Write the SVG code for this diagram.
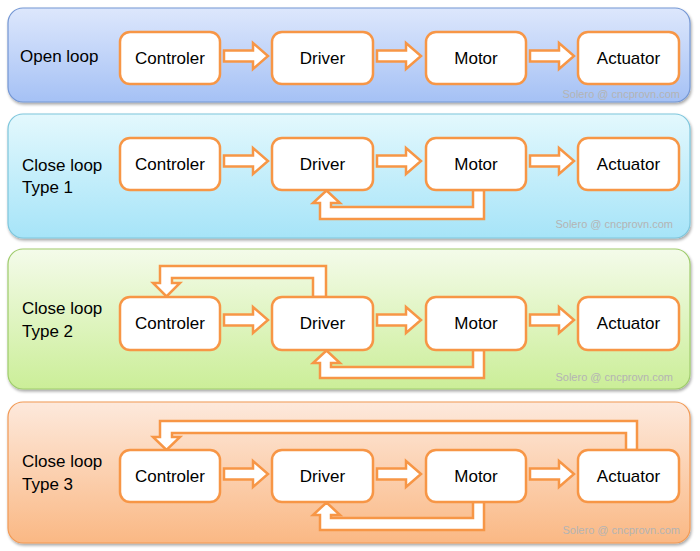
<svg xmlns="http://www.w3.org/2000/svg" width="700" height="551" viewBox="0 0 700 551">
  <defs>
    <linearGradient id="gBlue" x1="0" y1="0" x2="0" y2="1">
      <stop offset="0" stop-color="#dde7fc"/>
      <stop offset="1" stop-color="#a5c1f5"/>
    </linearGradient>
    <linearGradient id="gCyan" x1="0" y1="0" x2="0" y2="1">
      <stop offset="0" stop-color="#e3f8fd"/>
      <stop offset="1" stop-color="#a6e4f8"/>
    </linearGradient>
    <linearGradient id="gGreen" x1="0" y1="0" x2="0" y2="1">
      <stop offset="0" stop-color="#f4fbea"/>
      <stop offset="1" stop-color="#cbee98"/>
    </linearGradient>
    <linearGradient id="gOrange" x1="0" y1="0" x2="0" y2="1">
      <stop offset="0" stop-color="#fde9dc"/>
      <stop offset="1" stop-color="#fab884"/>
    </linearGradient>
    <filter id="shadow" x="-5%" y="-10%" width="110%" height="130%">
      <feGaussianBlur in="SourceAlpha" stdDeviation="1.5"/>
      <feOffset dx="1" dy="2" result="b"/>
      <feComponentTransfer><feFuncA type="linear" slope="0.35"/></feComponentTransfer>
      <feMerge><feMergeNode/><feMergeNode in="SourceGraphic"/></feMerge>
    </filter>
  </defs>
  <style>
    .panel { stroke-width: 1.2; filter: url(#shadow); }
    .box { fill: #ffffff; stroke: #f79646; stroke-width: 2.5; }
    .conn { fill: #ffffff; stroke: #f79646; stroke-width: 2.5; stroke-linejoin: miter; }
    .t { font-family: "Liberation Sans", Arial, sans-serif; font-size: 17px; fill: #000000; }
    .nt { text-anchor: middle; }
    .wm { font-family: "Liberation Sans", Arial, sans-serif; font-size: 11px; fill: #b4b4b4; text-anchor: end; }
  </style>

  <rect width="700" height="551" fill="#ffffff"/>

  <!-- Panels -->
  <g id="panels">
    <rect class="panel" x="8" y="8" width="682" height="94" rx="15" fill="url(#gBlue)" stroke="#7497d4"/>
    <rect class="panel" x="8" y="114" width="682" height="124" rx="15" fill="url(#gCyan)" stroke="#7ec6dc"/>
    <rect class="panel" x="8" y="249" width="682" height="140" rx="15" fill="url(#gGreen)" stroke="#9fcc6c"/>
    <rect class="panel" x="8" y="402" width="682" height="141" rx="15" fill="url(#gOrange)" stroke="#f29a55"/>
  </g>

  <!-- Panel labels -->
  <g id="labels">
    <text class="t" x="20" y="62">Open loop</text>
    <text class="t" x="22" y="171">Close loop</text>
    <text class="t" x="22" y="193">Type 1</text>
    <text class="t" x="22" y="314">Close loop</text>
    <text class="t" x="22" y="337">Type 2</text>
    <text class="t" x="22" y="467">Close loop</text>
    <text class="t" x="22" y="490">Type 3</text>
  </g>

  <!-- Watermarks -->
  <g id="watermarks">
    <text class="wm" x="680" y="98">Solero @ cncprovn.com</text>
    <text class="wm" x="673" y="228">Solero @ cncprovn.com</text>
    <text class="wm" x="673" y="381">Solero @ cncprovn.com</text>
    <text class="wm" x="680" y="534">Solero @ cncprovn.com</text>
  </g>

  <!-- Connectors -->
  <g id="connectors">
    <!-- forward block arrows: panel 1 (center 56) -->
    <polygon class="conn" points="224,50.5 253,50.5 253,43 268,56 253,69 253,61.5 224,61.5"/>
    <polygon class="conn" points="377,50.5 406,50.5 406,43 421,56 406,69 406,61.5 377,61.5"/>
    <polygon class="conn" points="530,50.5 559,50.5 559,43 574,56 559,69 559,61.5 530,61.5"/>
    <!-- panel 2 (center 161) -->
    <polygon class="conn" points="224,155.5 253,155.5 253,148 268,161 253,174 253,166.5 224,166.5"/>
    <polygon class="conn" points="377,155.5 406,155.5 406,148 421,161 406,174 406,166.5 377,166.5"/>
    <polygon class="conn" points="530,155.5 559,155.5 559,148 574,161 559,174 559,166.5 530,166.5"/>
    <!-- panel 3 (center 320) -->
    <polygon class="conn" points="224,314.5 253,314.5 253,307 268,320 253,333 253,325.5 224,325.5"/>
    <polygon class="conn" points="377,314.5 406,314.5 406,307 421,320 406,333 406,325.5 377,325.5"/>
    <polygon class="conn" points="530,314.5 559,314.5 559,307 574,320 559,333 559,325.5 530,325.5"/>
    <!-- panel 4 (center 474) -->
    <polygon class="conn" points="224,468.5 253,468.5 253,461 268,474 253,487 253,479.5 224,479.5"/>
    <polygon class="conn" points="377,468.5 406,468.5 406,461 421,474 406,487 406,479.5 377,479.5"/>
    <polygon class="conn" points="530,468.5 559,468.5 559,461 574,474 559,487 559,479.5 530,479.5"/>

    <!-- panel 2 feedback Motor -> Driver -->
    <polygon class="conn" points="473,190 473,207 331,207 331,203 340,203 326.5,190.5 313,203 320,203 320,219 484,219 484,190"/>

    <!-- panel 3 feedback Driver -> Controler (top) -->
    <polygon class="conn" points="313,297 313,278 172,278 172,283 180,283 166.5,296.5 153,283 160,283 160,266 326,266 326,297"/>
    <!-- panel 3 feedback Motor -> Driver (bottom) -->
    <polygon class="conn" points="473,350 473,367 331,367 331,363 340,363 326.5,350.5 313,363 320,363 320,378 484,378 484,350"/>

    <!-- panel 4 feedback Actuator -> Controler (top) -->
    <polygon class="conn" points="626,450 626,433 172,433 172,437 180,437 166.5,450 153,437 160,437 160,421 637,421 637,450"/>
    <!-- panel 4 feedback Motor -> Driver (bottom) -->
    <polygon class="conn" points="473,502 473,518 331,518 331,515 340,515 326.5,502.5 313,515 320,515 320,530 484,530 484,502"/>
  </g>

  <!-- Panel 1 nodes -->
  <g id="p1-controler"><rect class="box" x="120" y="32" width="100" height="52" rx="10"/><text class="t nt" x="170" y="64">Controler</text></g>
  <g id="p1-driver"><rect class="box" x="272" y="32" width="101" height="52" rx="10"/><text class="t nt" x="322.5" y="64">Driver</text></g>
  <g id="p1-motor"><rect class="box" x="426" y="32" width="100" height="52" rx="10"/><text class="t nt" x="476" y="64">Motor</text></g>
  <g id="p1-actuator"><rect class="box" x="578" y="32" width="101" height="52" rx="10"/><text class="t nt" x="628.5" y="64">Actuator</text></g>

  <!-- Panel 2 nodes -->
  <g id="p2-controler"><rect class="box" x="120" y="138" width="100" height="52" rx="10"/><text class="t nt" x="170" y="170">Controler</text></g>
  <g id="p2-driver"><rect class="box" x="272" y="138" width="101" height="52" rx="10"/><text class="t nt" x="322.5" y="170">Driver</text></g>
  <g id="p2-motor"><rect class="box" x="426" y="138" width="100" height="52" rx="10"/><text class="t nt" x="476" y="170">Motor</text></g>
  <g id="p2-actuator"><rect class="box" x="578" y="138" width="101" height="52" rx="10"/><text class="t nt" x="628.5" y="170">Actuator</text></g>

  <!-- Panel 3 nodes -->
  <g id="p3-controler"><rect class="box" x="120" y="297" width="100" height="53" rx="10"/><text class="t nt" x="170" y="329">Controler</text></g>
  <g id="p3-driver"><rect class="box" x="272" y="297" width="101" height="53" rx="10"/><text class="t nt" x="322.5" y="329">Driver</text></g>
  <g id="p3-motor"><rect class="box" x="426" y="297" width="100" height="53" rx="10"/><text class="t nt" x="476" y="329">Motor</text></g>
  <g id="p3-actuator"><rect class="box" x="578" y="297" width="101" height="53" rx="10"/><text class="t nt" x="628.5" y="329">Actuator</text></g>

  <!-- Panel 4 nodes -->
  <g id="p4-controler"><rect class="box" x="120" y="450" width="100" height="52" rx="10"/><text class="t nt" x="170" y="482">Controler</text></g>
  <g id="p4-driver"><rect class="box" x="272" y="450" width="101" height="52" rx="10"/><text class="t nt" x="322.5" y="482">Driver</text></g>
  <g id="p4-motor"><rect class="box" x="426" y="450" width="100" height="52" rx="10"/><text class="t nt" x="476" y="482">Motor</text></g>
  <g id="p4-actuator"><rect class="box" x="578" y="450" width="101" height="52" rx="10"/><text class="t nt" x="628.5" y="482">Actuator</text></g>
</svg>
